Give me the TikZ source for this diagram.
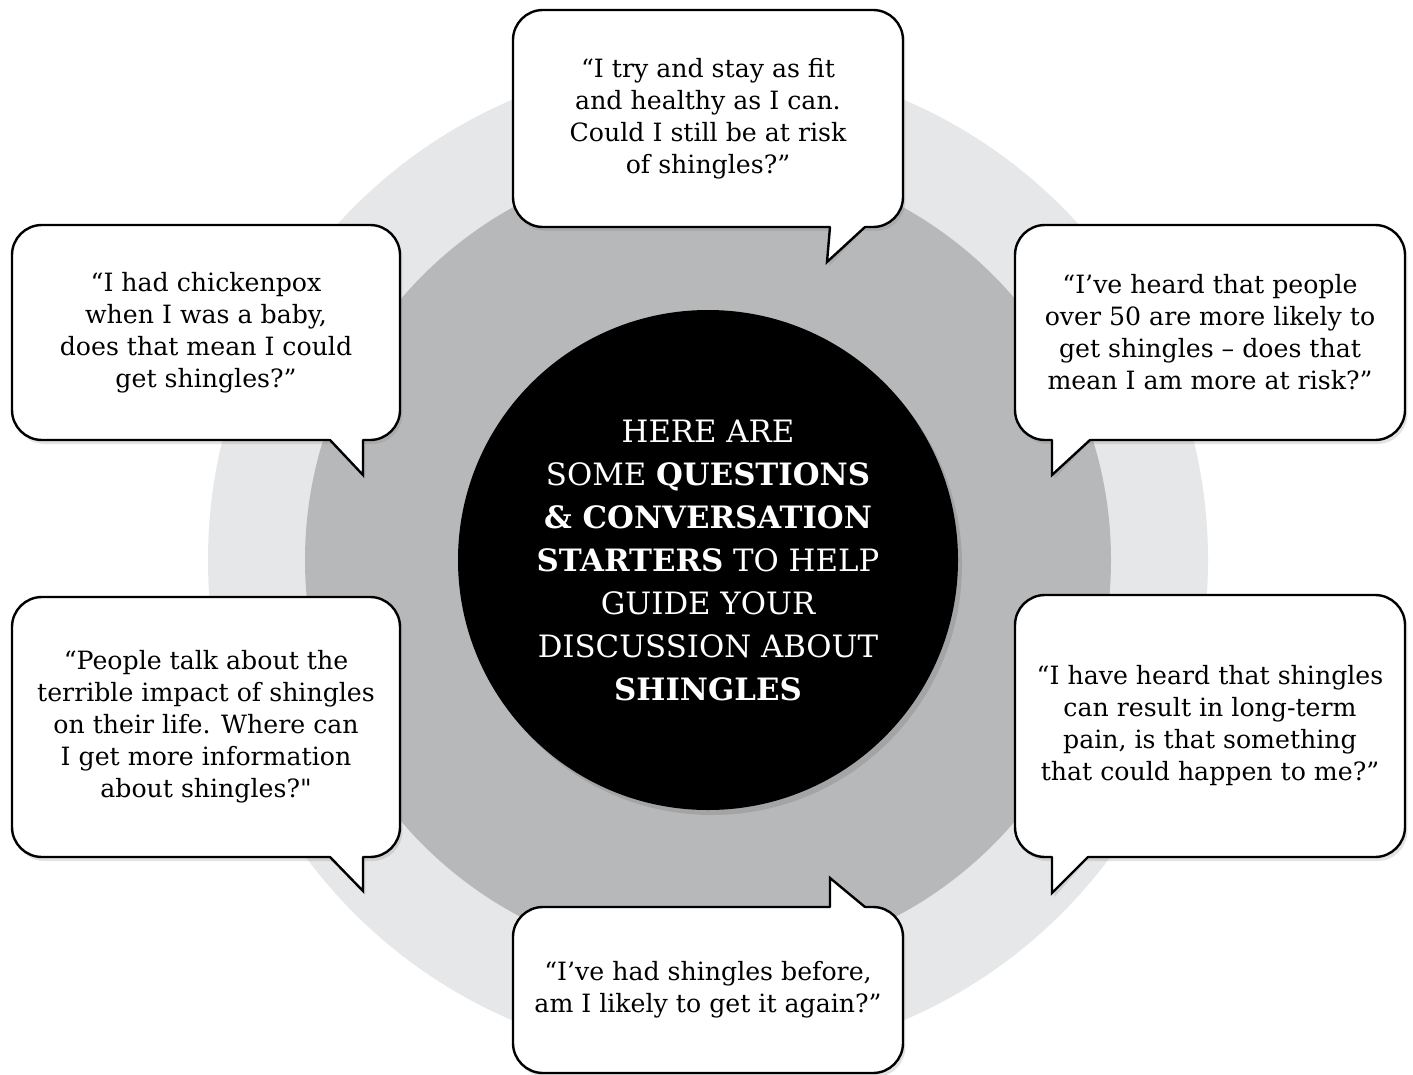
\documentclass[tikz,border=0pt]{standalone}
\usepackage{fontspec}
\setmainfont{DejaVu Serif}
\newfontfamily\straightq{DejaVu Serif}
\usetikzlibrary{shadows,calc}
\definecolor{ringlight}{HTML}{E6E7E8}
\definecolor{ringmid}{HTML}{B7B8B9}
\tikzset{
  softshadow/.style={drop shadow={opacity=0.22, shadow xshift=1.2pt, shadow yshift=-2pt}},
  bubble/.style={draw=black, line width=1.2pt, fill=white, rounded corners=15pt,
    align=center, inner sep=0pt, text=black,
    font=\fontsize{12.6}{16}\selectfont, softshadow},
  tailedge/.style={draw=black, line width=1.2pt, line join=miter, line cap=round},
  hub/.style={circle, fill=black, text=white, minimum size=250pt, inner sep=0pt,
    align=center, font=\fontsize{15.4}{21.5}\selectfont,
    drop shadow={opacity=0.35, shadow xshift=2pt, shadow yshift=-2.5pt}}
}
% tail: base point 1, tip, base point 2, inward y shift (px)
\newcommand\tailshadow[3]{\fill[white, softshadow] #1 -- #2 -- #3 -- cycle;}
\newcommand\tailtop[4]{%
  \fill[white] ($#1+(0,#4)$) -- #1 -- #2 -- #3 -- ($#3+(0,#4)$) -- cycle;
  \draw[tailedge] #1 -- #2 -- #3;}
\begin{document}
\begin{tikzpicture}[x=0.5pt, y=-0.5pt]
\useasboundingbox (0,0) rectangle (1413,1075);
\fill[white] (0,0) rectangle (1413,1075);
% rings
\fill[ringlight] (708,560) circle [radius=250pt];
\fill[ringmid] (708,560) circle [radius=201.5pt];
% hub
\node[hub] (hub) at (708,560) {HERE ARE\\
SOME \textbf{QUESTIONS}\\
\textbf{\& CONVERSATION}\\
\textbf{STARTERS} TO HELP\\
GUIDE YOUR\\
DISCUSSION ABOUT\\
\textbf{SHINGLES}};

% top bubble
\tailshadow{(830,222)}{(827,262)}{(865,222)}
\node[bubble, minimum width=195pt, minimum height=108.5pt] (q1) at (708,118.5)
  {“I try and stay as fit\\ and healthy as I can.\\ Could I still be at risk\\ of shingles?”};
\tailtop{(830,227)}{(827,262)}{(865,227)}{-3}

% upper left bubble
\tailshadow{(330,435)}{(363,475)}{(363,435)}
\node[bubble, minimum width=194pt, minimum height=107.5pt] (q2) at (206,332.5)
  {“I had chickenpox\\ when I was a baby,\\ does that mean I could\\ get shingles?”};
\tailtop{(330,440)}{(363,475)}{(363,440)}{-3}

% upper right bubble
\tailshadow{(1052,435)}{(1052,475)}{(1090,435)}
\node[bubble, minimum width=195pt, minimum height=107.5pt] (q3) at (1210,332.5)
  {“I’ve heard that people\\ over 50 are more likely to\\ get shingles -- does that\\ mean I am more at risk?”};
\tailtop{(1052,440)}{(1052,475)}{(1090,440)}{-3}

% lower left bubble
\tailshadow{(330,852)}{(363,891)}{(363,852)}
\node[bubble, minimum width=194pt, minimum height=130pt] (q4) at (206,727)
  {“People talk about the\\ terrible impact of shingles\\ on their life. Where can\\ I get more information\\ about shingles?{\straightq"}};
\tailtop{(330,857)}{(363,891)}{(363,857)}{-3}

% lower right bubble
\tailshadow{(1052,852)}{(1052,893)}{(1088,852)}
\node[bubble, minimum width=195pt, minimum height=131pt] (q5) at (1210,726)
  {“I have heard that shingles\\ can result in long-term\\ pain, is that something\\ that could happen to me?”};
\tailtop{(1052,857)}{(1052,893)}{(1088,857)}{-3}

% bottom bubble
\tailshadow{(830,912)}{(830,878)}{(865,912)}
\node[bubble, minimum width=195pt, minimum height=83pt] (q6) at (708,990)
  {“I’ve had shingles before,\\ am I likely to get it again?”};
\tailtop{(830,907)}{(830,878)}{(865,907)}{3}
\end{tikzpicture}
\end{document}
